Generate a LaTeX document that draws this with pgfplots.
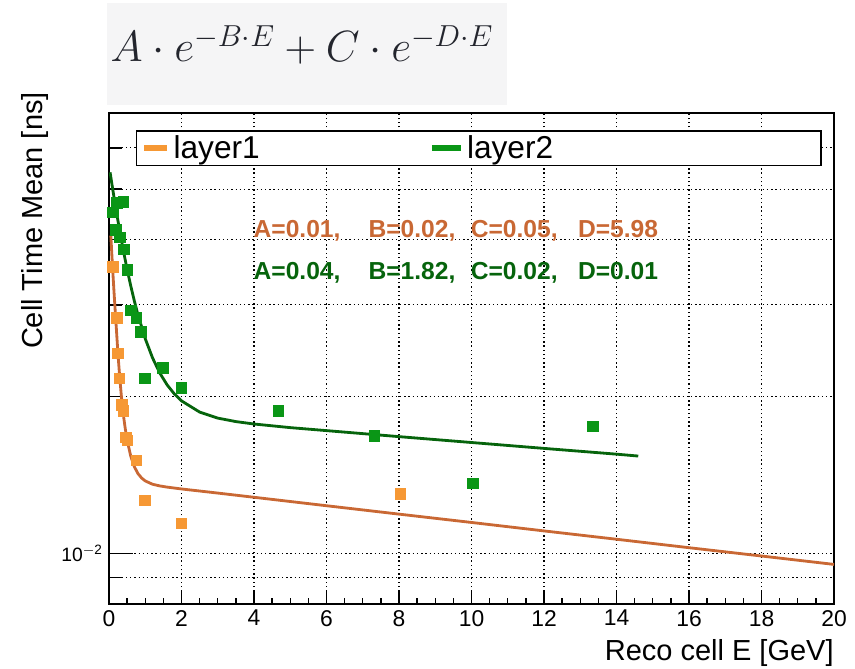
\documentclass[border=0pt]{standalone}
\usepackage{fontspec}
\setmainfont{Liberation Sans}
\usepackage{pgfplots}
\pgfplotsset{compat=1.18}
\definecolor{orangeM}{RGB}{246,152,52}
\definecolor{orangeL}{RGB}{201,104,52}
\definecolor{greenM}{RGB}{10,150,22}
\definecolor{greenL}{RGB}{6,100,12}
\definecolor{titlegrey}{RGB}{245,245,246}
\definecolor{formula}{RGB}{35,37,45}

% measured points
\pgfplotstableread{
x y
0.11 0.0355
0.22 0.0283
0.25 0.0242
0.28 0.0217
0.36 0.0193
0.39 0.0188
0.47 0.0167
0.50 0.0165
0.75 0.0151
0.99 0.01265
1.99 0.01142
8.04 0.0130
}\layerone
\pgfplotstableread{
x y
0.11 0.0451
0.22 0.0471
0.39 0.0473
0.19 0.0418
0.30 0.0404
0.41 0.0383
0.50 0.0350
0.61 0.0293
0.75 0.0283
0.88 0.0266
0.99 0.0217
1.49 0.0227
1.99 0.0208
4.67 0.0188
7.32 0.0168
10.03 0.01364
13.34 0.01754
}\layertwo
% fitted curves
\pgfplotstableread{
x y
0.05 0.04073
0.10 0.03520
0.15 0.03080
0.20 0.02720
0.25 0.02400
0.30 0.02160
0.35 0.01975
0.40 0.01838
0.45 0.01733
0.50 0.01651
0.60 0.01537
0.70 0.01467
0.80 0.01423
0.90 0.01396
1.00 0.01378
1.20 0.01358
1.40 0.01348
1.60 0.01341
2.00 0.01330
3.00 0.01306
4.00 0.01282
6.00 0.01235
8.00 0.01190
10.0 0.01147
12.0 0.01105
14.0 0.01065
16.0 0.01026
18.0 0.00989
20.0 0.00953
}\fitone
\pgfplotstableread{
x y
0.03 0.05386
0.10 0.05011
0.20 0.04542
0.30 0.04142
0.40 0.03801
0.50 0.03510
0.60 0.03262
0.70 0.03050
0.80 0.02869
1.00 0.02583
1.20 0.02374
1.40 0.02220
1.60 0.02108
1.80 0.02025
2.00 0.01963
2.50 0.01868
3.00 0.01819
3.50 0.01791
4.00 0.01772
5.00 0.01744
6.00 0.01721
8.00 0.01676
10.0 0.01633
12.0 0.01591
14.0 0.01551
14.6 0.01538
}\fittwo

\begin{document}
\begin{tikzpicture}
\path[use as bounding box] (-2.18,-1.28) rectangle (14.92,12.08);
\fill[titlegrey] (-0.04,9.98) rectangle (7.96,12.02);
\node[text=formula, font=\fontsize{25}{30}\selectfont] at (3.86,11.18)
  {$A\cdot e^{-B\cdot E}+C\cdot e^{-D\cdot E}$};
\begin{axis}[
    at={(0,0)}, anchor=south west,
    scale only axis, width=14.5cm, height=9.82cm,
    xmin=0, xmax=20,
    ymode=log, ymin=0.008, ymax=0.07,
    xtick={0,2,...,20},
    minor x tick num=3,
    ytick={0.009,0.02,0.03,0.04,0.05,0.06},
    yticklabels={,,,,,},
    yminorticks=false,
    extra y ticks={0.01},
    extra y tick labels={10\textsuperscript{$-$2}},
    extra y tick style={major tick length=0.47cm, grid=major},
    tick pos=left,
    tick align=inside,
    major tick length=0.26cm,
    minor tick length=0.12cm,
    tick style={black, line width=0.8pt},
    axis line style={black, line width=0.9pt},
    grid=major,
    major grid style={black, dash pattern=on 0.8pt off 1.6pt, line width=0.6pt},
    /pgf/number format/assume math mode=true,
    x tick label style={font=\fontsize{13}{15}\selectfont},
    y tick label style={font=\fontsize{11}{13}\selectfont},
    xlabel={Reco cell E [GeV]},
    ylabel={Cell Time Mean [ns]},
    every axis x label/.style={at={(rel axis cs:1,-0.1)}, anchor=east, inner sep=0pt,
        font=\fontsize{16.5}{19}\selectfont},
    every axis y label/.style={at={(rel axis cs:-0.102,1.043)}, rotate=90, anchor=east,
        inner sep=0pt, font=\fontsize{16.5}{19}\selectfont},
    legend columns=2,
    legend cell align=left,
    legend style={
        at={(rel axis cs:0.037,0.965)}, anchor=north west,
        draw=black, thick, fill=white,
        font=\fontsize{18}{20}\selectfont,
        inner ysep=0.5pt,
        /tikz/every even column/.append style={column sep=3.32cm},
    },
]

\addplot[only marks, mark=square*, mark size=3pt, color=orangeM,
    legend image code/.code={\draw[line width=3pt, orangeM] (0cm,0cm) -- (0.46cm,0cm);}]
    table {\layerone};
\addlegendentry{layer1}
\addplot[only marks, mark=square*, mark size=3pt, color=greenM,
    legend image code/.code={\draw[line width=3pt, greenM] (0cm,0cm) -- (0.58cm,0cm);}]
    table {\layertwo};
\addlegendentry{layer2\hspace*{5.18cm}}

\addplot[orangeL, line width=1.6pt, forget plot] table {\fitone};
\addplot[greenL, line width=1.6pt, forget plot] table {\fittwo};

\tikzset{fitpar/.style={anchor=base west, inner sep=0pt, font=\fontsize{14}{16}\bfseries}}
\node[fitpar, text=orangeL] at (axis cs:3.98,0.04036) {A=0.01,};
\node[fitpar, text=orangeL] at (axis cs:7.15,0.04036) {B=0.02,};
\node[fitpar, text=orangeL] at (axis cs:9.97,0.04036) {C=0.05,};
\node[fitpar, text=orangeL] at (axis cs:12.93,0.04036) {D=5.98};
\node[fitpar, text=greenL] at (axis cs:3.98,0.0335) {A=0.04,};
\node[fitpar, text=greenL] at (axis cs:7.15,0.0335) {B=1.82,};
\node[fitpar, text=greenL] at (axis cs:9.97,0.0335) {C=0.02,};
\node[fitpar, text=greenL] at (axis cs:12.93,0.0335) {D=0.01};

\end{axis}
\end{tikzpicture}
\end{document}
